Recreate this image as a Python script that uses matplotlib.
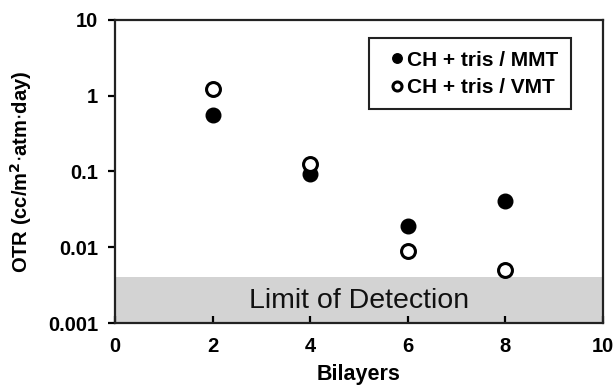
import numpy as np
import matplotlib.pyplot as plt
from matplotlib.ticker import FixedLocator, NullLocator

# data
bilayers = [2, 4, 6, 8]
otr_mmt = [0.55, 0.093, 0.0193, 0.041]
otr_vmt = [1.21, 0.126, 0.009, 0.005]
limite_deteccao = 0.004
y_ticks = [0.001, 0.01, 0.1, 1, 10]
y_tick_labels = ['0.001', '0.01', '0.1', '1', '10']
x_ticks = [0, 2, 4, 6, 8, 10]

plt.rcParams['font.family'] = ['Liberation Sans', 'DejaVu Sans']

fig = plt.figure(figsize=(6.15, 3.88), dpi=100)
ax = fig.add_axes([0.187, 0.1675, 0.793, 0.781])

ax.set_yscale('log')
ax.set_xlim(0, 10)
ax.set_ylim(0.001, 10)

# faixa do limite de deteccao
ax.axhspan(0.001, limite_deteccao, color='#d3d3d3', zorder=0, lw=0)
ax.text(5, 0.00195, 'Limit of Detection', ha='center', va='center',
        fontsize=20.5, color='#111111', fontweight='medium')

ax.plot(bilayers, otr_mmt, 'o', color='black', markersize=10.5,
        label='CH + tris / MMT', zorder=3)
ax.plot(bilayers, otr_vmt, 'o', markerfacecolor='white', markeredgecolor='black',
        markeredgewidth=2.2, markersize=10, label='CH + tris / VMT', zorder=3)

ax.yaxis.set_major_locator(FixedLocator(y_ticks))
ax.yaxis.set_minor_locator(NullLocator())
ax.set_yticklabels(y_tick_labels)
ax.set_xticks(x_ticks)

for s in ax.spines.values():
    s.set_linewidth(1.6)
    s.set_color('#222222')

ax.tick_params(axis='y', direction='out', length=5, width=1.6, pad=7,
               labelsize=14.5)
ax.tick_params(axis='x', direction='in', length=5, width=1.6, pad=10,
               labelsize=14.5)
for lab in ax.get_xticklabels() + ax.get_yticklabels():
    lab.set_fontweight('bold')

ax.set_xlabel('Bilayers', fontsize=15.5, fontweight='bold', labelpad=6)
ax.set_ylabel('OTR (cc/m$^{\\mathbf{2}}$$\\cdot$atm$\\cdot$day)', fontsize=14.5,
              fontweight='bold', labelpad=10)

leg = ax.legend(loc='upper right', bbox_to_anchor=(0.934, 0.94), fontsize=15,
                markerscale=0.65, handletextpad=-0.3, handlelength=1.5,
                borderpad=0.6, labelspacing=0.4, fancybox=False,
                framealpha=1, edgecolor='#222222', borderaxespad=0)
leg.get_frame().set_linewidth(1.5)
for t in leg.get_texts():
    t.set_fontweight('bold')

fig.savefig('out.png', dpi=100)
